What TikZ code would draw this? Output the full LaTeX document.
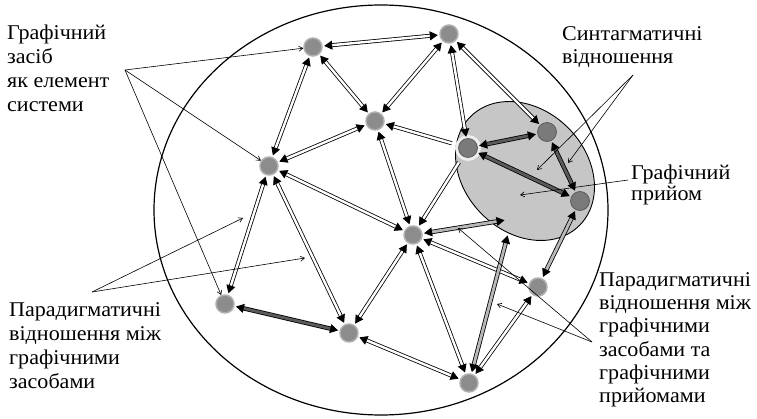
\documentclass[tikz,border=0pt]{standalone}
\usepackage{fontspec}
\setmainfont{Liberation Serif}[FakeStretch=1.05]
\usetikzlibrary{arrows.meta}
\definecolor{dotgray}{HTML}{8C8C8C}
\definecolor{dotedge}{HTML}{B0B0B0}
\definecolor{edotgray}{HTML}{7A7A7A}
\definecolor{edotedge}{HTML}{555555}
\definecolor{ellfill}{HTML}{C6C6C6}
\definecolor{darkfill}{HTML}{5A5A5A}
\definecolor{midfill}{HTML}{B8B8B8}
\begin{document}
\begin{tikzpicture}[x=1pt,y=-1pt,
  dot/.style={circle, inner sep=0pt, minimum size=18pt, fill=dotgray, draw=dotedge, line width=1.5pt},
  edot/.style={circle, inner sep=0pt, minimum size=19pt, fill=edotgray, draw=edotedge, line width=0.7pt},
  dbl/.style={draw=black, line width=0.8pt, double=white, double distance=2.4pt,
    shorten <=1.5pt, shorten >=1.5pt, >={Triangle[length=8pt,width=9pt]}},
  dbldark/.style={dbl, double=darkfill, double distance=2.8pt},
  dblmid/.style={dbl, double=midfill, double distance=2.8pt},
  ann/.style={line width=0.6pt, -{Straight Barb[length=4pt,width=5pt]}},
  lab/.style={align=left, inner sep=0pt, anchor=north west}
]
\useasboundingbox (0,0) rectangle (757,419);
% big circle and grey ellipse
\draw[line width=1.2pt] (381,210) ellipse [x radius=227, y radius=205];
\draw[line width=0.9pt, fill=ellfill, rotate around={-45:(525,171)}] (525,171) ellipse [x radius=77, y radius=61];
\fill[white!70!ellfill] (468,148) circle (13pt);
% nodes
\node[dot] (A) at (313,47) {};
\node[dot] (B) at (449,34) {};
\node[dot] (C) at (375,121) {};
\node[dot] (D) at (269,166) {};
\node[edot] (E) at (468,148) {};
\node[edot] (F) at (547,132) {};
\node[edot] (G) at (580,201) {};
\node[dot] (H) at (413,235) {};
\node[dot] (I) at (538,287) {};
\node[dot] (J) at (225,304) {};
\node[dot] (K) at (349,333) {};
\node[dot] (L) at (469,383) {};
\coordinate (X1) at (506,220);
\coordinate (X2) at (508,234);
% double connectors
\draw[dbl,<->] (A) -- (B);
\draw[dbl,<->] (A) -- (D);
\draw[dbl,<->] (A) -- (C);
\draw[dbl,<->] (B) -- (C);
\draw[dbl,<->] (B) -- (E);
\draw[dbl,<->] (B) -- (F);
\draw[dbl,<-,shorten >=7pt] (C) -- (E);
\draw[dbl,<->] (C) -- (D);
\draw[dbl,<->] (C) -- (H);
\draw[dbl,<->] (D) -- (H);
\draw[dbl,<->] (D) -- (J);
\draw[dbl,<->] (D) -- (K);
\draw[dbl,<->] (H) -- (K);
\draw[dbl,<-,shorten >=7pt] (H) -- (E);
\draw[dbl,<->] (H) -- (I);
\draw[dbl,<->] (H) -- (L);
\draw[dbl,<->] (K) -- (L);
\draw[dbl,<->] (L) -- (I);
\draw[dblmid,<->] (H) -- (X1);
\draw[dblmid,<->] (L) -- (X2);
\draw[dblmid,<->] (I) -- (G);
\draw[dbldark,<->] (J) -- (K);
\draw[dbldark,<->] (E) -- (F);
\draw[dbldark,<->] (E) -- (G);
\draw[dbldark,<->] (F) -- (G);
% annotation pointers
\coordinate (P1) at (125,70);
\coordinate (P2) at (92,292);
\coordinate (P2a) at (243,218);
\coordinate (P2b) at (305,258);
\coordinate (P3) at (633,75);
\coordinate (P3a) at (537,170);
\coordinate (P3b) at (568,163);
\coordinate (P4) at (628,180);
\coordinate (P4a) at (520,195);
\coordinate (P5) at (592,342);
\coordinate (P5a) at (458,228);
\coordinate (P5b) at (497,304);
\draw[ann] (P1) -- (A);
\draw[ann] (P1) -- (D);
\draw[ann] (P1) -- (J);
\draw[ann] (P2) -- (P2a);
\draw[ann] (P2) -- (P2b);
\draw[ann] (P3) -- (P3a);
\draw[ann] (P3) -- (P3b);
\draw[ann] (P4) -- (P4a);
\draw[ann] (P5) -- (P5a);
\draw[ann] (P5) -- (P5b);
% labels
\node[lab, font=\fontsize{21}{24}\selectfont] (t1) at (7,25) {Графічний\\засіб\\як елемент\\системи};
\node[lab, font=\fontsize{21}{23}\selectfont] (t2) at (562,26) {Синтагматичні\\відношення};
\node[lab, font=\fontsize{21}{21}\selectfont] (t3) at (631,165) {Графічний\\прийом};
\node[lab, font=\fontsize{21}{24}\selectfont] (t4) at (9,302) {Парадигматичні\\відношення між\\графічними\\засобами};
\node[lab, font=\fontsize{21}{23.3}\selectfont] (t5) at (599,272) {Парадигматичні\\відношення між\\графічними\\засобами та\\графічними\\прийомами};
\end{tikzpicture}
\end{document}
